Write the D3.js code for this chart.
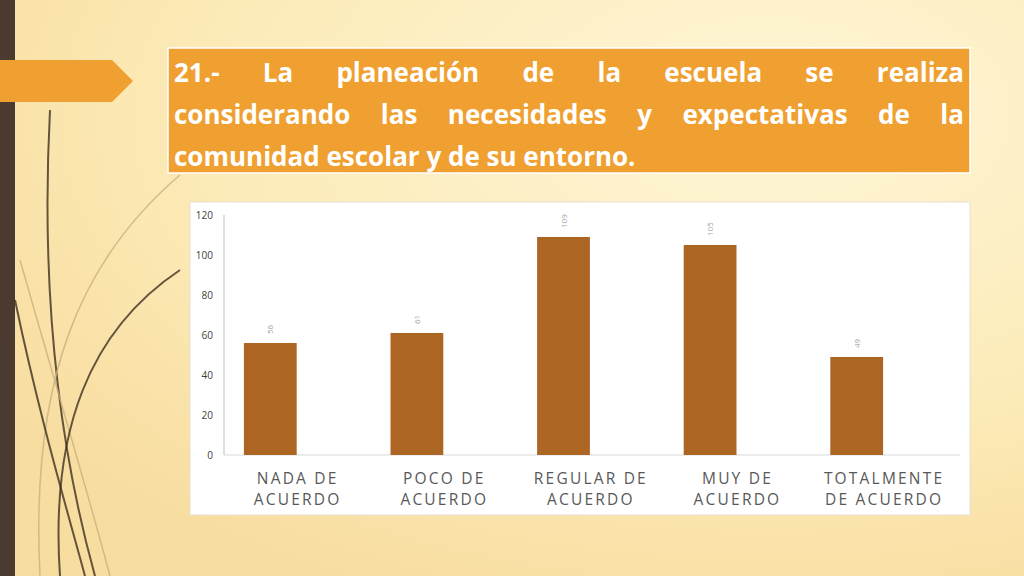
<!DOCTYPE html><html><head><meta charset="utf-8"><script src="https://cdn.jsdelivr.net/npm/d3@7"></script>
<style>body{margin:0}svg{display:block}</style></head><body><svg id="c" width="1024" height="576"></svg>
<script>
const categories=[["NADA DE","ACUERDO"],["POCO DE","ACUERDO"],["REGULAR DE","ACUERDO"],["MUY DE","ACUERDO"],["TOTALMENTE","DE ACUERDO"]];
const values=[56,61,109,105,49];
const yTicks=[0,20,40,60,80,100,120];
const titleLines=["21.- La planeación de la escuela se realiza","considerando las necesidades y expectativas de la","comunidad escolar y de su entorno."];
const svg=d3.select("#c");
const defs=svg.append("defs");
const g=defs.append("radialGradient").attr("id","bg").attr("cx","0.75").attr("cy","0.2").attr("r","0.9");
g.append("stop").attr("offset","0").attr("stop-color","#FFF6D8");
g.append("stop").attr("offset","0.6").attr("stop-color","#FCEBB8");
g.append("stop").attr("offset","1").attr("stop-color","#F8DDA0");
svg.append("rect").attr("width",1024).attr("height",576).attr("fill","url(#bg)");
svg.append("rect").attr("width",15).attr("height",576).attr("fill","#4A3A30");
const curves=["M50,110 C40,300 60,450 95,576","M20,260 C60,400 90,500 110,576","M180,270 C90,330 50,430 60,576","M180,175 C80,260 30,380 40,576","M15,300 C40,420 70,520 85,576"];
svg.selectAll(".cv").data(curves).enter().append("path").attr("d",d=>d).attr("fill","none")
 .attr("stroke",(d,i)=>i%2?"#C8B080":"#3E3020").attr("stroke-width",(d,i)=>i%2?1.5:2).attr("opacity",0.8);
svg.append("path").attr("d","M0,60 L112,60 L133,81 L112,102 L0,102 Z").attr("fill","#F0A030");
svg.append("rect").attr("x",168).attr("y",48).attr("width",802).attr("height",125).attr("fill","#F0A030").attr("stroke","#fff").attr("stroke-width",1.5);
titleLines.forEach((t,i)=>{
 const tx=svg.append("text").attr("x",174).attr("y",82+i*42).attr("fill","#fff").attr("font-family","Open Sans, sans-serif").attr("font-weight","bold").attr("font-size",26).text(t);
 if(i<2){const w=tx.node().getComputedTextLength();const n=t.split(" ").length-1;tx.attr("word-spacing",(790-w)/n);}
});
svg.append("rect").attr("x",190).attr("y",202).attr("width",780).attr("height",313).attr("fill","#fff").attr("stroke","#E8E0D0");
const x=d3.scaleBand().domain(d3.range(5)).range([197,930]).paddingInner(0.64).paddingOuter(0.32);
const y=d3.scaleLinear().domain([0,120]).range([455,215]);
svg.append("line").attr("x1",224).attr("x2",224).attr("y1",215).attr("y2",455).attr("stroke","#BFBFBF");
svg.append("line").attr("x1",224).attr("x2",960).attr("y1",455).attr("y2",455).attr("stroke","#D9D9D9");
svg.selectAll(".yt").data(yTicks).enter().append("text").attr("x",213).attr("y",d=>y(d)+4).attr("text-anchor","end")
 .attr("font-family","Open Sans, sans-serif").attr("font-size",10).attr("fill","#404040").text(d=>d);
svg.selectAll(".bar").data(values).enter().append("rect").attr("x",(d,i)=>x(i)).attr("width",x.bandwidth())
 .attr("y",d=>y(d)).attr("height",d=>455-y(d)).attr("fill","#AD6524");
svg.selectAll(".lb").data(values).enter().append("text")
 .attr("transform",(d,i)=>`translate(${x(i)+x.bandwidth()/2+3},${y(d)-9}) rotate(-90)`)
 .attr("font-family","Open Sans, sans-serif").attr("font-size",8).attr("fill","#A0A0A0").text(d=>d);
categories.forEach((c,i)=>c.forEach((t,j)=>svg.append("text").attr("x",x(i)+x.bandwidth()+1).attr("y",484+j*21)
 .attr("text-anchor","middle").attr("font-family","Open Sans, sans-serif").attr("font-size",15.5).attr("letter-spacing",2.2).attr("fill","#595959").text(t)));
</script></body></html>
